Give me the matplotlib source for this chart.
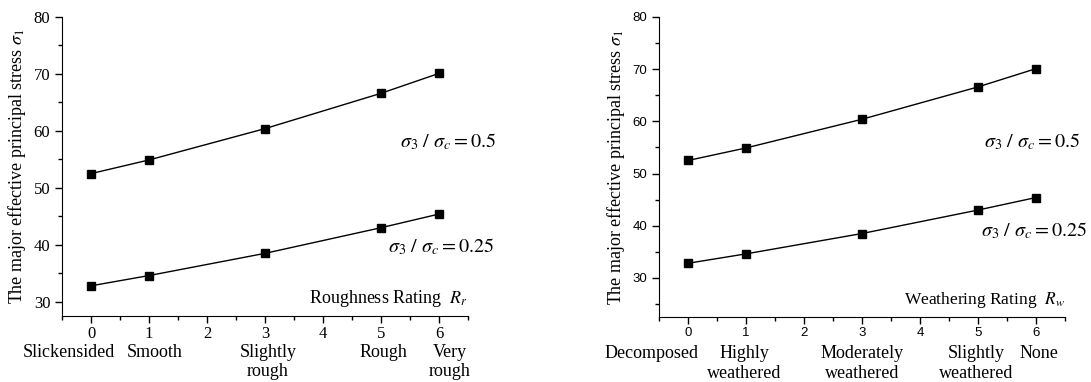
import matplotlib
matplotlib.use("Agg")
import matplotlib.pyplot as plt
from matplotlib.ticker import MultipleLocator
from matplotlib.transforms import blended_transform_factory

plt.rcParams['font.family'] = 'Liberation Serif'
plt.rcParams['mathtext.fontset'] = 'stix'

# donnees
ratings = [0, 1, 3, 5, 6]
stress_05 = [52.5, 54.9, 60.4, 66.6, 70.1]
stress_025 = [32.8, 34.6, 38.5, 43.0, 45.4]
rough_labels = ["Slickensided", "Smooth", "Slightly\nrough", "Rough", "Very\nrough"]
weather_labels = ["Decomposed", "Highly\nweathered", "Moderately\nweathered", "Slightly\nweathered", "None"]

# decalage horizontal des etiquettes (en unites x), pour coller a l'original
rough_nudge = [-0.38, 0.09, 0.05, 0.05, 0.19]
weather_nudge = [-0.63, -0.03, 0.0, -0.03, 0.05]

W, H = 1091, 382
fig = plt.figure(figsize=(W / 100, H / 100), dpi=100)
ticks_size = {"Liberation Serif": 12, "Liberation Sans": 9.5}


def panel(rect, ylow, ticks_font, cats, nudge, xlabel, xlabel_size, lab05, lab025):
    ax = fig.add_axes(rect)
    ax.plot(ratings, stress_05, "k-s", lw=1, ms=6)
    ax.plot(ratings, stress_025, "k-s", lw=1, ms=6)
    ax.set_xlim(-0.5, 6.5)
    ax.set_ylim(ylow, 80)
    ax.spines["top"].set_visible(False)
    ax.spines["right"].set_visible(False)
    ax.xaxis.set_major_locator(MultipleLocator(1))
    ax.xaxis.set_minor_locator(MultipleLocator(0.5))
    ax.yaxis.set_major_locator(MultipleLocator(10))
    ax.yaxis.set_minor_locator(MultipleLocator(5))
    ax.tick_params(which="major", direction="out", length=5, width=1)
    ax.tick_params(which="minor", direction="out", length=3, width=1)
    ax.set_yticks([30, 40, 50, 60, 70, 80])
    for lbl in ax.get_xticklabels() + ax.get_yticklabels():
        lbl.set_fontfamily(ticks_font)
        lbl.set_fontsize(ticks_size[ticks_font])
    ax.tick_params(axis="x", pad=2)
    trans = blended_transform_factory(ax.transData, ax.transAxes)
    for x, dx, c in zip(ratings, nudge, cats):
        ax.text(x + dx, -0.093, c, transform=trans, ha="center", va="top",
                fontsize=13, linespacing=1.2)
    ax.text(1.0, 0.025, xlabel, transform=ax.transAxes, ha="right", va="bottom",
            fontsize=xlabel_size)
    ax.text(lab05[0], lab05[1], r"$\sigma_3\ /\ \sigma_c = 0.5$", fontsize=14.5, va="center")
    ax.text(lab025[0], lab025[1], r"$\sigma_3\ /\ \sigma_c = 0.25$", fontsize=14.5, va="center")
    ax.set_ylabel(r"The major effective principal stress $\sigma_1$", fontsize=13, labelpad=4)
    return ax


panel([62 / W, (H - 316) / H, 406 / W, 299 / H], 27.5, "Liberation Serif",
      rough_labels, rough_nudge, r"Roughness Rating  $R_r$", 13, (5.33, 58.1), (5.12, 39.6))
panel([659 / W, (H - 317) / H, 406 / W, 300 / H], 22.5, "Liberation Sans",
      weather_labels, weather_nudge, r"Weathering Rating  $R_w$", 12.5, (5.1, 56.0), (5.05, 39.0))

fig.savefig("out.png", dpi=100)
